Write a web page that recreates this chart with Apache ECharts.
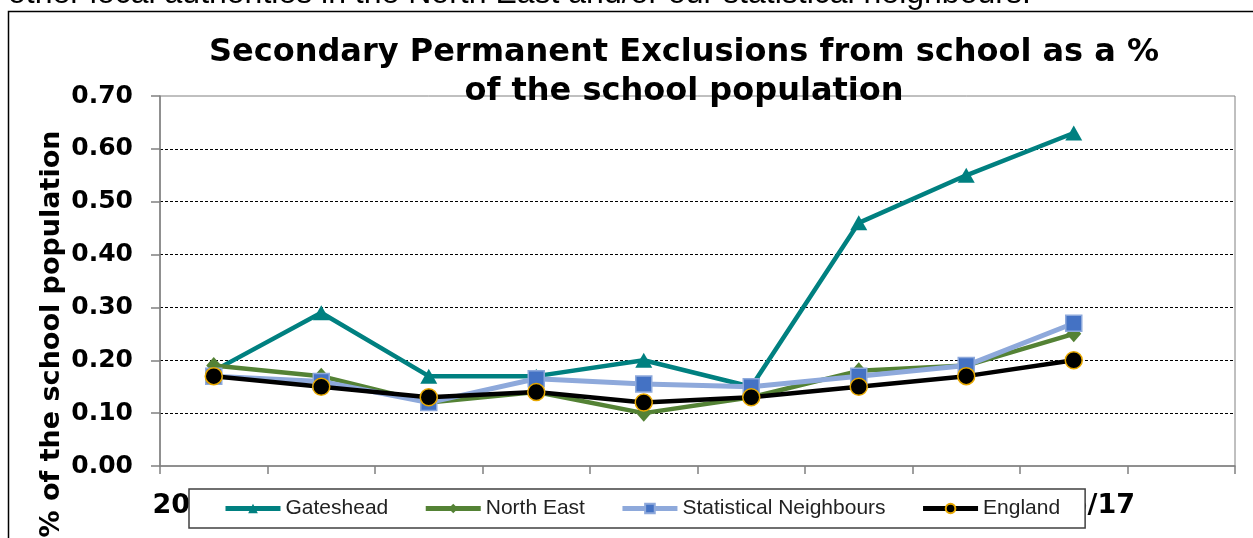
<!DOCTYPE html>
<html>
<head>
<meta charset="utf-8">
<script src="https://cdn.jsdelivr.net/npm/echarts@6/dist/echarts.min.js"></script>
<style>
  html, body { margin: 0; padding: 0; background: #ffffff; }
  #chart { width: 1253px; height: 538px; }
</style>
</head>
<body>
<div id="chart"></div>
<script>
// School years on the category axis (last slot is left empty)
const years = ['2008/09', '2009/10', '2010/11', '2011/12', '2012/13', '2013/14', '2014/15', '2015/16', '2016/17', ''];

// Secondary permanent exclusions, % of the school population
const gateshead = [0.18, 0.29, 0.17, 0.17, 0.20, 0.15, 0.46, 0.55, 0.63];
const northEast = [0.19, 0.17, 0.12, 0.14, 0.10, 0.13, 0.18, 0.19, 0.25];
const statNeighbours = [0.17, 0.16, 0.12, 0.165, 0.155, 0.15, 0.17, 0.19, 0.27];
const england = [0.17, 0.15, 0.13, 0.14, 0.12, 0.13, 0.15, 0.17, 0.20];

// Value-axis ticks
const yTicks = [0, 0.1, 0.2, 0.3, 0.4, 0.5, 0.6, 0.7];

const boldFont = 'DejaVu Sans';
const chart = echarts.init(document.getElementById('chart'), null, { renderer: 'canvas' });

chart.setOption({
  backgroundColor: '#ffffff',
  animation: false,
  title: {
    text: 'Secondary Permanent Exclusions from school as a %\nof the school population',
    left: 684,
    top: 33,
    textAlign: 'center',
    padding: 0,
    textStyle: {
      fontFamily: boldFont,
      fontWeight: 'bold',
      fontSize: 32,
      lineHeight: 39,
      color: '#000000'
    }
  },
  graphic: [
    {
      type: 'text',
      x: 8,
      y: -6,
      silent: true,
      style: {
        text: 'other local authorities in the North East and/or our statistical neighbours.',
        font: '32px "Liberation Sans", Arial, sans-serif',
        fill: '#000000',
        verticalAlign: 'middle'
      }
    },
    {
      type: 'polyline',
      silent: true,
      shape: { points: [[8.5, 540], [8.5, 11.5], [1255, 11.5]] },
      style: { stroke: '#000000', lineWidth: 1.5, fill: null }
    },
    {
      type: 'text',
      x: 52,
      y: 334,
      rotation: Math.PI / 2,
      silent: true,
      style: {
        text: '% of the school population',
        font: 'bold 27px "DejaVu Sans", sans-serif',
        fill: '#000000',
        align: 'center',
        verticalAlign: 'middle'
      }
    }
  ],
  legend: {
    left: 189,
    top: 489,
    padding: [9, 25, 9, 34],
    itemGap: 35,
    itemWidth: 55,
    itemHeight: 12,
    backgroundColor: '#ffffff',
    borderColor: '#404040',
    borderWidth: 1.5,
    borderRadius: 0,
    lineStyle: { width: 5 },
    textStyle: {
      fontFamily: '"Liberation Sans", Arial, sans-serif',
      fontSize: 21,
      color: '#222222'
    },
    data: ['Gateshead', 'North East', 'Statistical Neighbours', 'England']
  },
  grid: {
    left: 160,
    right: 18,
    top: 96,
    bottom: 72,
    show: true,
    borderColor: '#808080',
    borderWidth: 1,
    containLabel: false
  },
  xAxis: {
    type: 'category',
    data: years,
    boundaryGap: true,
    axisLine: { show: true, lineStyle: { color: '#808080', width: 1.5 } },
    axisTick: { show: true, inside: false, length: 8, interval: 0, lineStyle: { color: '#808080', width: 1.5 } },
    axisLabel: {
      interval: 0,
      margin: 26,
      fontFamily: boldFont,
      fontWeight: 'bold',
      fontSize: 27,
      color: '#000000'
    },
    splitLine: { show: false }
  },
  yAxis: {
    type: 'value',
    min: yTicks[0],
    max: yTicks[yTicks.length - 1],
    interval: 0.1,
    axisLine: { show: true, lineStyle: { color: '#808080', width: 1.5 } },
    axisTick: { show: true, inside: false, length: 9, lineStyle: { color: '#808080', width: 1.5 } },
    axisLabel: {
      margin: 27,
      fontFamily: boldFont,
      fontWeight: 'bold',
      fontSize: 25,
      color: '#000000',
      formatter: v => v.toFixed(2)
    },
    splitLine: {
      show: true,
      showMinLine: false,
      showMaxLine: false,
      lineStyle: { color: '#000000', type: [3, 2], width: 1 }
    }
  },
  series: [
    {
      name: 'Gateshead',
      type: 'line',
      data: gateshead,
      symbol: 'triangle',
      symbolSize: [17, 15],
      lineStyle: { color: '#008080', width: 4.5 },
      itemStyle: { color: '#008080', borderWidth: 0 }
    },
    {
      name: 'North East',
      type: 'line',
      data: northEast,
      symbol: 'diamond',
      symbolSize: [15, 17],
      lineStyle: { color: '#548235', width: 4.5 },
      itemStyle: { color: '#548235', borderWidth: 0 }
    },
    {
      name: 'Statistical Neighbours',
      type: 'line',
      data: statNeighbours,
      symbol: 'rect',
      symbolSize: 16,
      lineStyle: { color: '#8EA9DB', width: 5 },
      itemStyle: { color: '#4472C4', borderColor: '#8EA9DB', borderWidth: 1.5 }
    },
    {
      name: 'England',
      type: 'line',
      data: england,
      symbol: 'circle',
      symbolSize: 17,
      lineStyle: { color: '#000000', width: 4.5 },
      itemStyle: { color: '#000000', borderColor: '#E8A800', borderWidth: 1.5 }
    }
  ]
});
</script>
</body>
</html>
